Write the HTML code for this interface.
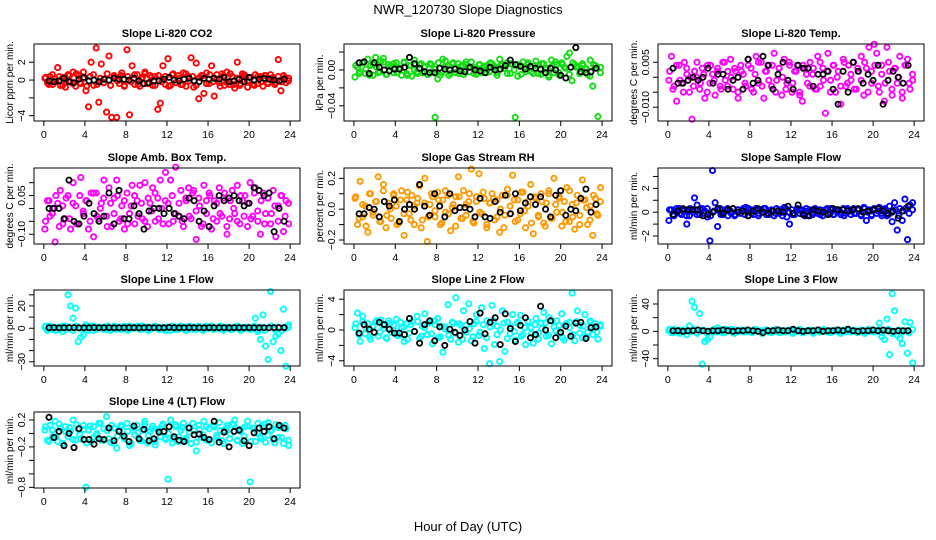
<!DOCTYPE html>
<html><head><meta charset="utf-8"><style>
html,body{margin:0;padding:0;background:#fff;}
svg{display:block;font-family:"Liberation Sans",sans-serif;}
</style></head><body>
<svg id="chart" width="936" height="540" viewBox="0 0 936 540" xmlns="http://www.w3.org/2000/svg">
<rect width="936" height="540" fill="#fff"/>
<text x="468" y="14" text-anchor="middle" font-size="13">NWR_120730  Slope Diagnostics</text>
<text x="468" y="531" text-anchor="middle" font-size="13">Hour of Day (UTC)</text>
</svg>
<script>
const p1Values=[0.2,-0.3,0.4,-0.5,0.1,1.4,-0.6,0.3,-0.8,0.6,-0.2,0.9,-0.7,0.5,-0.4,0.9,-1.2,-3.0,2.0,-0.6,3.6,-2.5,1.8,-0.3,-3.6,2.7,-4.2,0.5,-4.2,-0.4,0.8,-0.6,3.4,-3.9,1.6,-0.5,0.6,-0.7,0.3,0.9,-0.4,0.5,-0.6,0.4,-3.3,-2.6,1.6,-0.5,2.4,-0.6,0.7,-0.3,0.5,-0.5,0.8,-0.7,0.4,2.5,-0.8,1.9,-2.1,0.5,-1.5,0.8,-0.4,1.6,-1.8,0.6,-0.3,0.7,-0.6,0.9,-0.5,0.4,-0.9,2.0,-0.6,0.7,0.5,-0.8,0.3,-0.5,0.6,-0.4,0.4,-0.7,0.5,-0.4,0.6,0.3,-0.3,2.3,-1.2,0.5,-0.3,0.2];
const p1Core=[0.3,-0.5,0.6,-0.2,0.4,-0.6,0.1,0.5,-0.4,0.7,-0.3,0.2,-0.7,0.4,0.6,-0.5,0.2,-0.3,0.7,-0.6,0.3,-0.1,0.5,-0.7,0.4,-0.2,0.6,-0.5,0.1,0.7,-0.4,0.3,-0.6,0.5,-0.2,0.4,-0.7,0.6,-0.3,0.2,-0.5,0.7,-0.1,0.4,-0.6,0.3,0.5,-0.4,0.6,-0.2,0.1,-0.7,0.5,-0.3,0.7,-0.5,0.2,-0.4,0.6,-0.1,0.3,-0.6,0.4,-0.2,0.5,-0.3,0.2,-0.5,0.4,-0.2,0.3,-0.1];
const p1Black=[-0.1,-0.2,-0.1,0.2,-0.2,-0.3,0.1,0.3,-0.1,0,-0.2,0.1,0,0.2,0.1,0.1,0,0.2,-0.1,-0.4,-0.3,-0.1,-0.1,0.1,0.3,0,-0.1,0.1,0.2,-0.1,-0.2,0.2,0.1,0.2,0.1,0.3,-0.2,-0.1,0.1,-0.2,0.3,0,0.1,0.2,0.1,0,-0.1,0.1];
const p2Values=[-0.008,0.003,-0.002,0.008,-0.004,0.012,0.005,-0.006,0.014,-0.003,0.010,0.013,-0.005,0.006,0.004,-0.003,0.008,0.002,-0.006,0.009,-0.004,0.005,-0.007,0.011,-0.002,0.006,-0.003,0.004,-0.005,0.007,-0.002,-0.053,-0.010,-0.006,0.012,0.010,0.005,-0.004,0.008,-0.003,0.007,0.004,-0.005,0.006,0.003,0.009,-0.004,0.002,0.006,-0.003,0.004,0.005,-0.002,0.007,0.004,-0.003,0.012,0.006,0.002,0.008,-0.004,0.006,-0.053,-0.007,0.005,0.009,-0.002,0.006,0.003,-0.004,0.010,0.005,-0.005,0.007,0.002,-0.008,0.011,-0.003,0.006,-0.006,0.008,0.003,0.015,0.019,-0.012,0.006,0.004,-0.004,0.007,0.002,-0.005,0.011,-0.018,0.005,-0.052,0.003];
const p2Core=[0.005,-0.004,0.008,0.001,-0.006,0.006,0.003,-0.002,0.009,-0.005,0.004,0.007,-0.003,0.002,0.008,-0.006,0.005,0.0,-0.004,0.007,0.003,-0.005,0.006,0.001,0.008,-0.003,0.004,-0.006,0.007,0.002,-0.004,0.005,0.009,-0.002,0.003,-0.005,0.006,0.001,-0.003,0.008,0.004,-0.006,0.005,0.002,-0.004,0.007,0.0,0.006,-0.005,0.003,0.008,-0.002,0.005,-0.004,0.007,0.001,-0.006,0.004,0.009,-0.003,0.006,0.002,-0.005,0.008,0.003,-0.004,0.005,0.001,-0.007,0.006,0.002,-0.003];
const p2Black=[0.008,0.009,-0.004,0.008,0.003,0.0,-0.001,0.001,0.001,0.003,0.014,0.007,0.002,-0.002,-0.003,-0.003,0.002,0.001,0.0,0.001,-0.001,-0.002,0.003,0.0,-0.001,-0.003,0.003,0.0,0.001,0.005,0.011,0.006,0.004,0.001,0.004,0.002,0.001,-0.003,0.002,0.0,-0.006,-0.009,0.003,0.025,-0.002,-0.003,-0.002,0.002];
const p3Values=[-0.001,0.007,-0.003,-0.008,0.004,-0.002,0.005,0.001,-0.005,-0.014,0.002,0.0,-0.004,0.003,-0.007,0.004,-0.002,0.001,-0.006,0.003,-0.003,0.005,-0.001,0.002,0.006,-0.004,0.002,-0.007,0.004,0.001,-0.003,0.006,0.003,-0.005,0.007,-0.002,0.005,-0.007,0.002,0.004,-0.003,0.008,-0.001,0.003,-0.006,0.006,-0.002,0.004,-0.005,0.002,0.004,-0.006,-0.008,0.003,-0.002,0.005,0.001,-0.004,0.007,-0.003,0.003,-0.012,0.008,-0.001,0.004,-0.005,0.002,-0.009,0.006,-0.003,0.004,-0.001,0.005,-0.004,0.002,0.007,-0.006,0.003,0.010,-0.002,0.011,0.008,-0.005,0.004,-0.008,0.010,0.002,-0.006,0.003,-0.002,0.007,-0.007,0.004,0.006,-0.004,-0.001];
const p3Core=[0.002,-0.004,0.004,-0.001,-0.005,0.003,0.0,-0.003,0.005,-0.002,0.001,-0.005,0.004,-0.001,0.002,-0.004,0.005,-0.003,0.0,0.003,-0.005,0.002,-0.002,0.004,-0.004,0.001,0.005,-0.003,0.002,-0.001,0.004,-0.005,0.003,0.0,-0.004,0.005,-0.002,0.002,-0.005,0.004,0.001,-0.003,0.003,-0.004,0.005,-0.001,0.002,-0.005,0.004,0.0,-0.003,0.005,-0.002,0.001,-0.004,0.003,-0.001,0.005,-0.005,0.002,0.004,-0.003,0.001,-0.002,0.005,-0.004,0.003,0.0,-0.005,0.004,-0.002,0.001];
const p3Black=[0.003,-0.002,-0.002,-0.001,0.0,-0.001,0.0,0.003,-0.002,0.001,0.001,-0.004,-0.001,0.0,-0.004,0.006,-0.002,-0.001,0.007,0.004,-0.004,0.001,0.005,-0.001,-0.004,0.004,0.003,0.003,-0.003,0.001,0.001,0.002,-0.004,-0.009,0.002,-0.005,0.005,0.002,-0.002,0.001,-0.001,0.004,-0.009,-0.001,0.002,0.0,-0.002,0.004];
const p4Values=[-0.08,0.03,-0.03,0.0,-0.13,0.02,0.07,-0.06,-0.04,0.05,-0.08,0.10,0.01,-0.06,0.12,-0.02,0.03,-0.08,0.06,-0.11,0.06,-0.04,0.02,0.11,-0.03,0.08,-0.07,0.04,0.11,-0.05,0.01,-0.08,0.06,-0.02,0.09,-0.06,0.03,0.09,-0.04,0.10,-0.07,0.02,0.08,-0.05,0.04,0.11,-0.06,0.14,0.02,0.11,-0.05,0.16,-0.03,0.07,-0.07,0.03,0.08,-0.04,0.07,-0.12,0.04,-0.07,0.09,-0.02,0.06,-0.08,0.03,-0.05,0.08,-0.03,0.06,-0.10,-0.04,0.07,-0.02,0.09,-0.06,0.03,0.05,-0.07,0.10,-0.03,0.08,-0.05,-0.10,0.06,-0.02,0.04,-0.06,0.07,-0.11,0.01,0.05,-0.09,0.03,-0.06];
const p4Core=[-0.05,0.03,-0.02,0.05,-0.07,0.01,0.04,-0.04,0.02,-0.06,0.05,-0.01,0.03,-0.05,0.06,-0.03,0.0,0.04,-0.07,0.02,-0.02,0.05,-0.04,0.03,-0.06,0.01,0.05,-0.03,0.02,-0.05,0.04,-0.01,0.06,-0.04,0.0,0.03,-0.06,0.05,-0.02,0.02,-0.05,0.04,-0.03,0.06,-0.01,0.01,-0.06,0.03,0.05,-0.04,0.02,-0.02,0.04,-0.07,0.03,0.0,-0.05,0.05,-0.03,0.02,-0.04,0.06,-0.01,0.03,-0.06,0.04,-0.02,0.01,-0.05,0.05,-0.03,0.02];
const p4Black=[0.0,0.0,0.0,-0.04,0.11,-0.05,-0.06,-0.03,0.02,-0.02,-0.05,-0.03,0.06,-0.06,0.07,-0.04,-0.04,0.01,-0.02,-0.08,-0.01,0.0,0.0,-0.02,0.0,-0.02,-0.03,-0.04,0.04,0.03,-0.05,-0.01,-0.07,0.01,0.05,0.03,0.04,0.05,0.03,0.01,0.02,0.08,0.07,0.05,0.06,-0.09,0.0,-0.05];
const p5Values=[0.07,-0.10,0.18,-0.05,0.02,-0.15,0.10,-0.04,0.05,0.21,-0.08,0.16,-0.12,0.04,-0.06,0.10,0.02,-0.09,0.12,-0.17,0.06,-0.03,0.09,-0.10,0.04,0.15,-0.07,0.20,-0.21,0.03,0.08,-0.05,0.11,-0.10,0.06,-0.02,0.09,-0.14,0.03,0.08,0.21,-0.06,0.12,-0.04,0.05,0.26,-0.09,0.08,0.23,-0.03,0.07,-0.12,0.04,0.10,-0.07,0.06,-0.15,0.09,-0.04,0.13,0.02,0.22,-0.08,0.06,-0.03,0.11,-0.12,0.05,0.16,-0.16,0.07,-0.05,0.10,-0.09,0.04,0.12,-0.06,0.20,-0.02,0.08,-0.11,0.05,0.14,-0.08,0.03,-0.13,0.09,-0.04,0.19,0.06,-0.10,0.02,-0.17,0.07,-0.04,0.14];
const p5Core=[0.08,-0.06,0.03,-0.11,0.1,-0.02,0.05,-0.08,0.12,-0.04,0.0,0.09,-0.1,0.06,-0.03,0.11,-0.07,0.02,0.07,-0.12,0.04,-0.05,0.1,-0.01,0.06,-0.09,0.12,-0.03,0.01,-0.11,0.08,-0.06,0.03,0.1,-0.08,0.05,-0.02,0.11,-0.1,0.04,0.07,-0.05,0.0,-0.12,0.09,-0.03,0.06,-0.07,0.11,-0.01,0.02,-0.09,0.08,-0.04,0.05,-0.11,0.1,-0.06,0.03,0.07,-0.02,-0.08,0.12,-0.05,0.04,-0.1,0.06,0.01,-0.07,0.09,-0.03,0.05];
const p5Black=[-0.03,-0.03,0.01,0.0,-0.05,0.05,0.02,0.06,-0.08,0.0,0.03,0.0,0.16,0.02,-0.04,0.10,0.02,-0.05,0.10,-0.01,0.01,0.01,0.0,-0.05,0.07,-0.05,-0.06,0.05,-0.02,0.09,-0.03,0.1,-0.01,0.04,0.08,0.03,0.08,0.0,-0.05,0.09,0.12,-0.04,0.0,-0.01,0.07,0.13,-0.02,0.03];
const p6Values=[-0.7,0.2,-0.3,0.1,0.3,-0.2,0.2,-1.0,-0.3,0.2,1.2,0.6,-0.2,0.3,0.1,-0.4,-2.4,3.5,0.8,-1.2,0.3,-0.2,0.2,-0.3,0.1,0.3,-0.2,0.2,-0.1,0.3,0.4,-0.3,0.2,-0.2,0.3,-0.1,0.2,0.3,-0.2,0.1,0.2,-0.3,0.3,-0.1,0.2,0.4,-0.4,-1.0,0.2,-0.2,0.3,-0.1,0.2,-0.3,0.1,0.2,-0.2,0.3,-0.1,0.2,-0.3,0.2,-0.1,0.3,-0.2,0.2,0.1,-0.2,0.3,-0.1,0.2,-0.2,0.3,-0.1,0.2,-0.3,0.4,-0.7,0.2,-0.2,0.3,-0.1,0.4,-0.3,0.2,-0.3,0.5,-0.8,0.8,-1.5,0.3,-0.7,1.1,-2.3,0.6,0.8];
const p6Core=[0.2,-0.2,0.3,-0.1,0.1,-0.3,0.3,0.0,-0.2,0.2,-0.1,0.3,-0.3,0.1,0.2,-0.2,0.0,0.3,-0.1,-0.3,0.2,0.1,-0.2,0.3,-0.1,0.2,-0.3,0.0,0.3,-0.2,0.1,-0.1,0.2,-0.3,0.3,0.0,-0.2,0.1,0.2,-0.1,0.3,-0.3,0.0,0.2,-0.2,0.1,0.3,-0.1,-0.2,0.2,0.0,-0.3,0.3,0.1,-0.1,0.2,-0.2,0.3,0.0,-0.3,0.2,0.1,-0.1,0.3,-0.2,0.0,0.2,-0.3,0.1,0.3,-0.1,0.2];
const p6Black=[-0.2,0.1,0.3,0.2,0.2,0.2,-0.3,-0.2,0.0,0.3,-0.1,0.2,0.3,0.0,0.1,-0.3,0.1,0.3,0.0,-0.1,0.1,0.1,0.0,0.5,-0.1,0.6,-0.2,-0.3,0.2,0.1,0.0,-0.2,0.3,0.2,0.2,0.1,0.2,0.3,0.0,0.1,0.2,0.3,0.1,-0.1,0.1,-0.5,0.1,0.5];
const p7Values=[1,-2,2,-1,1,0,-1,-3,2,30,20,9,18,-12,-8,-6,3,-2,1,2,-1,1,0,1,-1,1,0,2,-1,1,0,1,-1,2,0,1,1,-1,2,0,1,-1,1,2,0,-1,1,0,1,-2,0,1,-1,2,0,1,-1,0,1,-1,2,0,-1,1,0,2,-1,0,1,-1,1,0,1,-1,0,2,-1,1,0,1,-1,0,9,-3,-10,12,-16,-28,33,-12,-7,-5,-20,17,-34,3];
const p7Core=[2,-1,1,-2,0,2,-1,1,-2,2,0,-1,1,2,-2,0,1,-1,2,-2,1,0,-1,2,-2,1,0,2,-1,1,-2,0,2,-1,1,-2,0,2,-1,1,0,-2,2,-1,0,1,-2,2,1,-1,0,2,-2,1,-1,0,2,-2,1,0,-1,2,-1,1,-2,0,2,-1,1,-2,0,1];
const p7Black=[0.5,0.6,0.4,0.5,0.5,0.6,0.4,0.5,0.4,0.6,0.5,0.5,0.6,0.4,0.5,0.5,0.6,0.5,0.4,0.5,0.6,0.5,0.5,0.4,0.8,0.5,0.4,0.5,0.6,0.5,0.5,0.4,0.6,0.5,0.5,0.5,0.4,0.6,0.5,0.5,0.6,0.5,0.4,0.5,0.5,0.6,0.5,0.6];
const p8Values=[0.3,2.2,-1.5,1.8,-0.5,0.8,-1.2,0.4,1.0,-0.8,1.3,0.2,-1.0,1.2,-0.3,0.6,1.4,-0.7,0.3,-1.5,0.8,-0.4,1.1,-0.2,1.8,-1.1,0.5,2.1,-0.6,1.0,-1.8,0.7,1.5,-0.9,-2.9,0.4,3.3,-1.2,0.9,4.2,-1.6,0.6,2.5,-0.3,3.4,-1.4,0.8,2.0,-0.7,2.9,-2.4,1.2,-4.4,3.2,-1.9,0.5,-4.1,2.5,-2.8,1.0,-0.5,2.0,-1.3,0.8,1.9,-0.6,-1.9,1.1,0.3,-1.7,1.5,-0.4,0.9,2.3,-0.8,1.6,-1.8,0.4,1.2,-0.5,2.1,-1.3,0.7,1.0,4.8,-1.4,2.5,0.6,-1.0,2.0,-0.3,1.2,-0.6,0.8,-1.2,0.5];
const p8Core=[0.8,-0.6,1.1,0.2,-0.9,0.5,1.2,-0.3,0.6,-1.1,0.9,0.0,-0.7,1.0,0.4,-1.2,0.7,-0.2,1.1,-0.8,0.3,0.9,-0.5,1.2,-1.0,0.5,0.1,-0.7,1.0,-0.4,0.8,-1.2,0.6,0.2,-0.9,1.1,-0.3,0.7,-1.0,0.4,1.2,-0.6,0.0,0.9,-1.1,0.5,-0.2,1.0,-0.8,0.3,1.1,-0.5,0.7,-1.2,0.2,0.9,-0.7,1.2,-0.1,0.6,-1.0,0.8,0.3,-0.6,1.1,-0.4,0.5,-0.9,1.0,0.1,-0.3,0.7];
const p8Black=[-0.4,0.7,0.1,-0.3,1.0,0.7,0.1,-0.4,-0.4,-0.6,1.5,-0.2,-1.7,0.7,1.2,-1.4,0.4,-2.0,0.1,-0.3,-0.7,0.0,1.1,-1.7,2.2,-0.5,1.0,1.6,-1.9,2.1,0.2,-1.5,0.6,1.6,-1.0,-0.6,3.1,0.0,1.2,-1.0,-0.3,0.5,-0.8,0.9,1.0,-1.1,0.3,0.4];
const p9Values=[1,-2,3,-1,2,0,-1,-5,8,44,35,-3,26,-48,-15,-12,-8,2,-1,5,1,-2,3,0,1,-2,2,0,1,-1,2,0,-1,1,2,0,1,-1,2,0,-2,1,0,2,-1,1,0,2,-1,2,0,1,-2,0,1,2,-1,0,1,-1,2,0,-1,1,0,2,-1,0,2,-1,1,0,1,-1,0,2,-1,1,0,2,-1,0,12,-8,-12,18,-34,55,30,-6,-10,-18,14,-32,13,-46];
const p9Core=[3,-2,1,-3,2,0,-1,3,-2,1,2,-3,0,3,-1,2,-2,1,3,-3,0,2,-1,1,-2,3,0,-3,2,-1,1,3,-2,0,-1,2,-3,1,3,-2,0,1,-3,2,-1,3,0,-2,1,2,-3,0,3,-1,2,-2,1,-3,3,0,-1,2,-2,1,3,-3,0,2,-1,1,-2,3];
const p9Black=[1,1,0,1,1,2,1,0,1,1,2,1,0,1,1,2,1,0,-2,1,1,2,1,1,3,1,0,1,1,2,0,1,1,2,1,3,1,0,1,1,2,1,2,1,0,1,1,1];
const p10Values=[0.05,-0.1,0.12,-0.05,0.18,-0.12,0.08,-0.15,0.1,-0.05,0.03,0.2,-0.1,0.06,-0.08,0.12,-0.8,0.05,-0.12,0.1,-0.03,0.15,-0.1,0.07,0.25,-0.08,0.12,-0.15,-0.22,0.05,0.1,-0.06,0.15,-0.18,0.08,-0.02,0.12,-0.1,0.05,0.18,-0.14,0.03,0.11,-0.17,0.06,-0.05,0.14,-0.09,-0.68,0.2,-0.08,0.1,-0.12,0.05,0.15,-0.07,0.09,-0.15,0.04,-0.26,0.12,-0.06,0.18,-0.1,0.07,-0.14,0.1,-0.03,0.16,-0.11,0.05,0.12,-0.08,0.14,0.2,-0.1,0.06,-0.15,0.1,0.18,-0.72,0.08,-0.12,0.15,-0.05,0.1,-0.13,0.16,0.04,-0.09,0.13,-0.06,0.1,-0.15,0.07,-0.18];
const p10Core=[0.1,-0.12,0.05,-0.05,0.14,-0.15,0.02,0.09,-0.09,0.13,-0.02,0.06,-0.14,0.11,-0.06,0.0,0.15,-0.1,0.04,-0.13,0.08,-0.04,0.12,-0.08,0.03,-0.15,0.1,0.01,-0.11,0.14,-0.03,0.07,-0.12,0.05,0.11,-0.07,0.0,-0.14,0.13,-0.05,0.09,-0.1,0.02,0.15,-0.13,0.06,-0.02,0.1,-0.09,0.12,-0.06,0.04,-0.15,0.08,-0.01,0.13,-0.11,0.03,-0.04,0.11,-0.12,0.07,0.0,-0.08,0.14,-0.03,0.05,-0.14,0.09,-0.06,0.12,-0.1];
const p10Black=[0.24,-0.06,0.03,-0.18,0.0,-0.21,0.07,-0.09,-0.09,-0.16,-0.08,-0.09,0.08,-0.11,0.03,-0.04,-0.12,0.11,-0.08,0.06,-0.11,-0.08,0.02,0.03,0.1,-0.05,-0.1,-0.12,0.08,-0.02,-0.01,-0.06,-0.09,0.18,-0.13,0.02,-0.2,0.03,0.05,-0.11,-0.18,0.01,0.08,0.03,0.1,-0.08,0.12,0.08];
const xTicks=[0,4,8,12,16,20,24];
const p1Ticks=[-4,-2,0,2], p1Labels=["\u22124","","0","2"];
const p2Ticks=[-0.04,-0.02,0,0.02], p2Labels=["\u22120.04","","0.00",""];
const p3Ticks=[-0.010,-0.005,0,0.005], p3Labels=["\u22120.010","","","0.005"];
const p4Ticks=[-0.10,-0.05,0,0.05,0.10], p4Labels=["\u22120.10","","","0.05",""];
const p5Ticks=[-0.2,-0.1,0,0.1,0.2], p5Labels=["\u22120.2","","0.0","","0.2"];
const p6Ticks=[-2,-1,0,1,2,3], p6Labels=["\u22122","","0","","2",""];
const p7Ticks=[-30,-20,-10,0,10,20,30], p7Labels=["\u221230","","","0","","20",""];
const p8Ticks=[-4,-2,0,2,4], p8Labels=["\u22124","","0","","4"];
const p9Ticks=[-40,-20,0,20,40], p9Labels=["\u221240","","0","","40"];
const p10Ticks=[-0.8,-0.6,-0.4,-0.2,0,0.2], p10Labels=["\u22120.8","","","\u22120.2","","0.2"];

const svg=document.getElementById('chart');
const NS='http://www.w3.org/2000/svg';
const cols=[[34,300],[344,612],[658,924]];
const rows=[[44,121],[168,244],[290,366],[412,488]];
const panels=[
 {t:'Slope Li-820 CO2',yl:'Licor ppm per min.',c:0,r:0,ymin:-4.6,ymax:4.05,v:p1Values,k:p1Core,b:p1Black,col:'#ff0000',tk:p1Ticks,lb:p1Labels,n:'co2'},
 {t:'Slope Li-820 Pressure',yl:'kPa per min.',c:1,r:0,ymin:-0.057,ymax:0.029,v:p2Values,k:p2Core,b:p2Black,col:'#11dd11',tk:p2Ticks,lb:p2Labels,n:'pressure'},
 {t:'Slope Li-820 Temp.',yl:'degrees C per min.',c:2,r:0,ymin:-0.0146,ymax:0.0111,v:p3Values,k:p3Core,b:p3Black,col:'#ff00ff',tk:p3Ticks,lb:p3Labels,n:'licor-temp'},
 {t:'Slope Amb. Box Temp.',yl:'degrees C per min.',c:0,r:1,ymin:-0.138,ymax:0.157,v:p4Values,k:p4Core,b:p4Black,col:'#ff00ff',tk:p4Ticks,lb:p4Labels,n:'box-temp'},
 {t:'Slope Gas Stream RH',yl:'percent per min.',c:1,r:1,ymin:-0.226,ymax:0.267,v:p5Values,k:p5Core,b:p5Black,col:'#ff9900',tk:p5Ticks,lb:p5Labels,n:'rh'},
 {t:'Slope Sample Flow',yl:'ml/min per min.',c:2,r:1,ymin:-2.67,ymax:3.71,v:p6Values,k:p6Core,b:p6Black,col:'#0000ff',tk:p6Ticks,lb:p6Labels,n:'sample-flow'},
 {t:'Slope Line 1 Flow',yl:'ml/min per min.',c:0,r:2,ymin:-33.8,ymax:34.3,v:p7Values,k:p7Core,b:p7Black,col:'#00ffff',tk:p7Ticks,lb:p7Labels,n:'line1-flow'},
 {t:'Slope Line 2 Flow',yl:'ml/min per min.',c:1,r:2,ymin:-4.68,ymax:5.2,v:p8Values,k:p8Core,b:p8Black,col:'#00ffff',tk:p8Ticks,lb:p8Labels,n:'line2-flow'},
 {t:'Slope Line 3 Flow',yl:'ml/min per min.',c:2,r:2,ymin:-50.7,ymax:60.5,v:p9Values,k:p9Core,b:p9Black,col:'#00ffff',tk:p9Ticks,lb:p9Labels,n:'line3-flow'},
 {t:'Slope Line 4 (LT) Flow',yl:'ml/min per min.',c:0,r:3,ymin:-0.81,ymax:0.318,v:p10Values,k:p10Core,b:p10Black,col:'#00ffff',tk:p10Ticks,lb:p10Labels,n:'line4-flow'}
];
function mk(tag,attrs,parent){const e=document.createElementNS(NS,tag);for(const k in attrs)e.setAttribute(k,attrs[k]);(parent||svg).appendChild(e);return e;}
panels.forEach(p=>{
 const [L,R]=cols[p.c],[T,B]=rows[p.r];
 const g=mk('g',{});
 
 
 const w=R-L, x0=L+w*0.04/1.08, x1=R-w*0.04/1.08;
 const xs=h=>x0+(x1-x0)*h/24;
 const ys=v=>B-(v-p.ymin)/(p.ymax-p.ymin)*(B-T);
 const title=mk('text',{x:(L+R)/2,y:T-7,'text-anchor':'middle','font-size':'11','font-weight':'bold'},g);
 title.textContent=p.t;
 
 
 const yl=mk('text',{transform:`translate(${L-21},${(T+B)/2}) rotate(-90)`,'text-anchor':'middle','font-size':'10'},g);
 yl.textContent=p.yl;
 
 
 const pts=mk('g',{fill:'none',stroke:p.col,'stroke-width':'1.9'},g);
 
 
 p.k.forEach((v,i)=>{const c=mk('circle',{cx:xs(i*24/p.k.length+0.17).toFixed(1),cy:ys(v).toFixed(1),r:2.6},pts);
  
  });
 p.v.forEach((v,i)=>{const c=mk('circle',{cx:xs(i*24/p.v.length+0.1).toFixed(1),cy:ys(v).toFixed(1),r:2.6},pts);
  
  });
 const bp=mk('g',{fill:'none',stroke:'#000','stroke-width':'1.8'},g);
 
 
 p.b.forEach((v,i)=>{const c=mk('circle',{cx:xs(0.5+i*23.4/p.b.length).toFixed(1),cy:ys(v).toFixed(1),r:2.6},bp);
  
  });
 const box=mk('rect',{x:L,y:T,width:w,height:B-T,fill:'none',stroke:'#000','stroke-width':'1'},g);
 
 
 const ax=mk('g',{stroke:'#000','stroke-width':'1'},g);
 
 
 xTicks.forEach(h=>{mk('line',{x1:xs(h),x2:xs(h),y1:B,y2:B+5},ax);
  const t=mk('text',{x:xs(h),y:B+17,'text-anchor':'middle','font-size':'10.5',stroke:'none',fill:'#000'},ax);t.textContent=h;
  
  });
 mk('line',{x1:xs(0),x2:xs(24),y1:B,y2:B},ax);
 const ay=mk('g',{stroke:'#000','stroke-width':'1'},g);
 
 
 p.tk.forEach((v,i)=>{const y=ys(v);mk('line',{x1:L-5,x2:L,y1:y,y2:y},ay);
  if(p.lb[i]){const t=mk('text',{transform:`translate(${L-9},${y}) rotate(-90)`,'text-anchor':'middle','font-size':'10.5',stroke:'none',fill:'#000'},ay);t.textContent=p.lb[i];
  
  }});
});
</script>
</body></html>
